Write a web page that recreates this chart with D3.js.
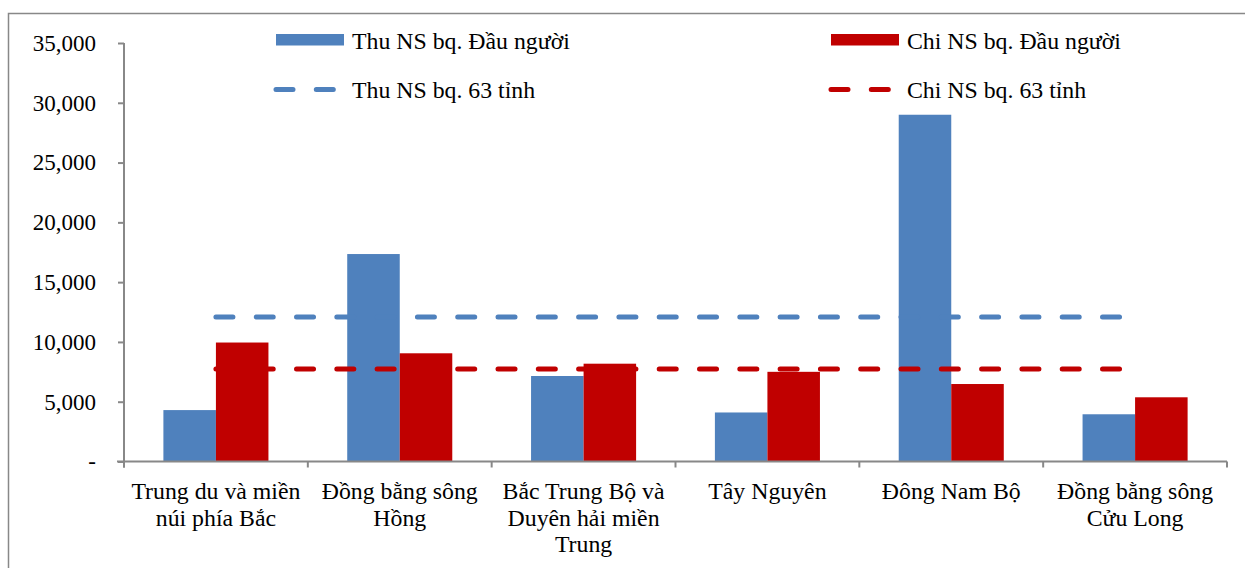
<!DOCTYPE html>
<html>
<head>
<meta charset="utf-8">
<script src="https://cdn.jsdelivr.net/npm/d3@7"></script>
<style>
  html, body { margin: 0; padding: 0; background: #fff; }
  svg { display: block; }
  text { font-family: "Liberation Serif", "Times New Roman", serif; fill: #000; }
</style>
</head>
<body>
<svg id="chart" width="1245" height="568"></svg>
<script>
// Regional budget revenue and spending per capita
const regions = [
  ["Trung du và miền", "núi phía Bắc"],
  ["Đồng bằng sông", "Hồng"],
  ["Bắc Trung Bộ và", "Duyên hải miền", "Trung"],
  ["Tây Nguyên"],
  ["Đông Nam Bộ"],
  ["Đồng bằng sông", "Cửu Long"]
];
const revenuePerCapita = [4300, 17350, 7150, 4100, 29000, 3950];
const spendingPerCapita = [9950, 9050, 8180, 7500, 6480, 5370];
const revenueAvg63 = 12080;
const spendingAvg63 = 7740;
const yTicks = [0, 5000, 10000, 15000, 20000, 25000, 30000, 35000];

const seriesNames = ["Thu NS bq. Đầu người", "Chi NS bq. Đầu người"];
const avgNames = ["Thu NS bq. 63 tỉnh", "Chi NS bq. 63 tỉnh"];
const colors = ["#4f81bd", "#c00000"];
const axisColor = "#888888";
const dash = "17 23.3";

const svg = d3.select("#chart");
const margin = { left: 124, right: 1227, top: 43, bottom: 461.5 };

// outer frame
svg.append("rect")
  .attr("x", 8.5).attr("y", 13.5)
  .attr("width", 1260).attr("height", 600)
  .attr("fill", "none").attr("stroke", axisColor).attr("stroke-width", 1.5);

const idx = d3.range(regions.length);
const x = d3.scaleBand().domain(idx).range([margin.left, margin.right]).paddingInner(0).paddingOuter(0);
const y = d3.scaleLinear().domain([0, 35000]).range([margin.bottom, margin.top]);
const inner = d3.scaleBand().domain([0, 1]).range([0, x.bandwidth()]).paddingInner(0).paddingOuter(0.75);

// bars
const series = [revenuePerCapita, spendingPerCapita];
series.forEach((vals, s) => {
  svg.append("g").selectAll("rect").data(vals).join("rect")
    .attr("x", (d, i) => x(i) + inner(s))
    .attr("y", d => y(d))
    .attr("width", inner.bandwidth())
    .attr("height", d => y(0) - y(d))
    .attr("fill", colors[s]);
});

// average lines across regions
[revenueAvg63, spendingAvg63].forEach((v, s) => {
  const line = d3.line().x(d => x(d) + x.bandwidth() / 2).y(() => y(v));
  svg.append("path")
    .attr("d", line(idx))
    .attr("fill", "none")
    .attr("stroke", colors[s])
    .attr("stroke-width", 5)
    .attr("stroke-linecap", "round")
    .attr("stroke-dasharray", dash);
});

// y axis
const fmt = d => d === 0 ? "-" : d3.format(",")(d);
const yAxis = svg.append("g")
  .attr("transform", `translate(${margin.left},0)`)
  .call(d3.axisLeft(y).tickValues(yTicks).tickFormat(fmt).tickSize(6).tickPadding(22).tickSizeOuter(0));
yAxis.select(".domain").attr("stroke", axisColor).attr("stroke-width", 2)
  .attr("d", `M0,${margin.top}V${margin.bottom + 6}`);
yAxis.selectAll(".tick line").attr("stroke", axisColor).attr("stroke-width", 2);
yAxis.selectAll(".tick text").style("font-size", "23px").attr("font-family", "Liberation Serif").attr("fill", "#000");

// x axis
const xAxisG = svg.append("g");
xAxisG.append("line")
  .attr("x1", margin.left - 7).attr("x2", margin.right)
  .attr("y1", margin.bottom).attr("y2", margin.bottom)
  .attr("stroke", axisColor).attr("stroke-width", 2);
const bounds = idx.map(i => x(i)).concat([margin.right]);
xAxisG.selectAll("line.tk").data(bounds).join("line")
  .attr("class", "tk")
  .attr("x1", d => d).attr("x2", d => d)
  .attr("y1", margin.bottom).attr("y2", margin.bottom + 6)
  .attr("stroke", axisColor).attr("stroke-width", 2);

const labels = xAxisG.selectAll("text.cat").data(regions).join("text")
  .attr("class", "cat")
  .attr("text-anchor", "middle")
  .style("font-size", "23.8px");
labels.each(function(lines, i) {
  d3.select(this).selectAll("tspan").data(lines).join("tspan")
    .attr("x", x(i) + x.bandwidth() / 2)
    .attr("y", (d, k) => 499 + k * 26.5)
    .text(d => d);
});

// legend
const legendCols = [276, 831];
const legend = svg.append("g");
legendCols.forEach((lx, s) => {
  legend.append("rect")
    .attr("x", lx).attr("y", 34)
    .attr("width", 68).attr("height", 11.5)
    .attr("fill", colors[s]);
  legend.append("text")
    .attr("x", lx + 76).attr("y", 48.5)
    .style("font-size", "23.8px")
    .text(seriesNames[s]);
  legend.append("path")
    .attr("d", `M${lx},89.5H${lx + 62}`)
    .attr("stroke", colors[s])
    .attr("stroke-width", 5)
    .attr("stroke-linecap", "round")
    .attr("stroke-dasharray", dash);
  legend.append("text")
    .attr("x", lx + 76).attr("y", 97.5)
    .style("font-size", "23.8px")
    .text(avgNames[s]);
});
</script>
</body>
</html>
